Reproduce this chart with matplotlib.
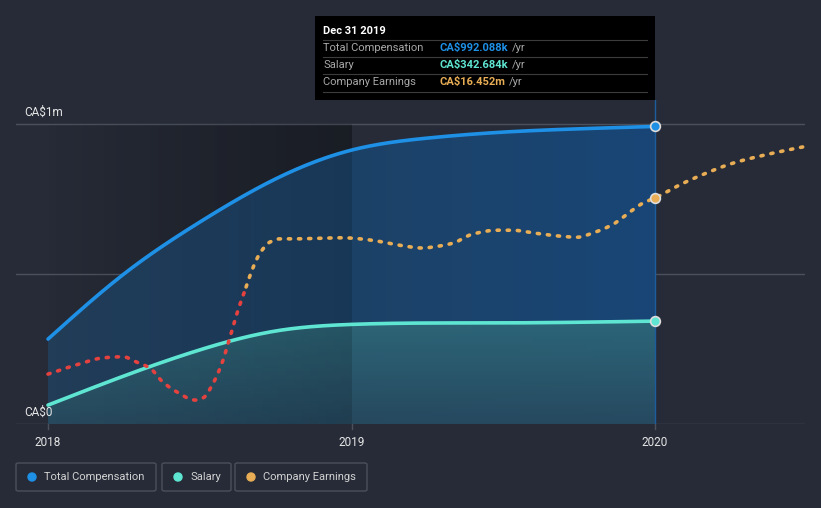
import numpy as np
import matplotlib
matplotlib.use('Agg')
import matplotlib.pyplot as plt
from matplotlib.patches import FancyBboxPatch, Rectangle, Ellipse
from matplotlib.colors import LinearSegmentedColormap

# values (years as decimals, CA$m)
comp_x = [2018.0, 2018.25, 2018.5, 2018.75, 2019.0, 2019.25, 2019.5, 2019.75, 2020.0]
comp_y = [0.283, 0.50, 0.673, 0.817, 0.913, 0.953, 0.973, 0.984, 0.992]

sal_x = [2018.0, 2018.25, 2018.5, 2018.75, 2019.0, 2019.5, 2020.0]
sal_y = [0.063, 0.16, 0.247, 0.31, 0.332, 0.337, 0.343]

earn_x = [2018.0, 2018.105, 2018.181, 2018.247, 2018.293, 2018.336, 2018.379, 2018.425,
          2018.484, 2018.511, 2018.544, 2018.573, 2018.6, 2018.626, 2018.649, 2018.672,
          2018.699, 2018.731, 2018.764, 2018.807, 2018.972, 2019.028, 2019.084, 2019.15,
          2019.236, 2019.269, 2019.334, 2019.4, 2019.479, 2019.532, 2019.598, 2019.687,
          2019.743, 2019.796, 2019.862, 2019.918, 2019.96, 2020.0, 2020.082, 2020.171,
          2020.257, 2020.346, 2020.435, 2020.488]
earn_y = [-16.1, -14.2, -13.1, -12.9, -13.9, -15.0, -17.6, -19.4,
          -20.9, -20.5, -17.8, -14.1, -9.2, -4.3, -0.6, 3.1,
          6.3, 8.3, 8.9, 8.9, 9.1, 8.9, 8.5, 7.8,
          7.2, 7.4, 8.1, 9.8, 10.5, 10.5, 10.0, 9.4,
          9.2, 10.0, 11.6, 13.9, 15.5, 16.452, 18.9, 21.1,
          22.9, 24.2, 25.3, 25.9]

year_ticks = [2018, 2019, 2020]
tip_rows = [('Total Compensation', 'CA$992.088k'), ('Salary', 'CA$342.684k'),
            ('Company Earnings', 'CA$16.452m')]

BG = '#262b37'
BLUE = '#1e90e6'
TEAL = '#5fe6d2'
ORANGE = '#e8ad55'
RED = '#e5423f'
GRID = '#4a505c'
FONT = 'Roboto'


def hermite(x, y, m, n):
    xs, ys = [], []
    h = np.diff(x)
    for k in range(len(h)):
        t = np.linspace(0, 1, n, endpoint=False)
        h00 = 2 * t**3 - 3 * t**2 + 1
        h10 = t**3 - 2 * t**2 + t
        h01 = -2 * t**3 + 3 * t**2
        h11 = t**3 - t**2
        xs.append(x[k] + t * h[k])
        ys.append(h00 * y[k] + h10 * h[k] * m[k] + h01 * y[k + 1] + h11 * h[k] * m[k + 1])
    xs.append([x[-1]])
    ys.append([y[-1]])
    return np.concatenate(xs), np.concatenate(ys)


def monotone(x, y, n=8):
    # Fritsch-Carlson slopes, only for drawing
    x = np.asarray(x, float)
    y = np.asarray(y, float)
    h = np.diff(x)
    d = np.diff(y) / h
    m = np.zeros_like(y)
    m[0], m[-1] = d[0], d[-1]
    for k in range(1, len(y) - 1):
        if d[k - 1] * d[k] > 0:
            w1 = 2 * h[k] + h[k - 1]
            w2 = h[k] + 2 * h[k - 1]
            m[k] = (w1 + w2) / (w1 / d[k - 1] + w2 / d[k])
    return hermite(x, y, m, n)


def natural(x, y, n=30):
    # natural cubic spline slopes, only for drawing
    x = np.asarray(x, float)
    y = np.asarray(y, float)
    N = len(x)
    h = np.diff(x)
    A = np.zeros((N, N))
    b = np.zeros(N)
    A[0, 0], A[0, 1] = 2 / h[0], 1 / h[0]
    b[0] = 3 * (y[1] - y[0]) / h[0]**2
    A[-1, -2], A[-1, -1] = 1 / h[-1], 2 / h[-1]
    b[-1] = 3 * (y[-1] - y[-2]) / h[-1]**2
    for k in range(1, N - 1):
        A[k, k - 1] = 1 / h[k - 1]
        A[k, k] = 2 / h[k - 1] + 2 / h[k]
        A[k, k + 1] = 1 / h[k]
        b[k] = 3 * ((y[k] - y[k - 1]) / h[k - 1]**2 + (y[k + 1] - y[k]) / h[k]**2)
    m = np.linalg.solve(A, b)
    return hermite(x, y, m, n)


W, H = 821, 508
fig = plt.figure(figsize=(W / 100, H / 100), dpi=100)
fig.patch.set_facecolor(BG)


def px(x0, y0, x1, y1):
    return [x0 / W, 1 - y1 / H, (x1 - x0) / W, (y1 - y0) / H]


ax = fig.add_axes(px(16, 100, 805, 424))
ax.set_facecolor(BG)
x0 = 2018 - 32 / 303.5
x1 = 2018 + 757 / 303.5
ax.set_xlim(x0, x1)
ax.set_ylim(0, 1.08)
for s in ax.spines.values():
    s.set_visible(False)
ax.set_xticks([])
ax.set_yticks([])

cx, cy = natural(comp_x, comp_y)
sx, sy = natural(sal_x, sal_y)
ex, ey = monotone(earn_x, earn_y)

# darker band over the 2018-2019 part
ax.imshow(np.linspace(0, 1, 256).reshape(1, -1), extent=[2018, 2019, 0, 1.0], aspect='auto',
          cmap=LinearSegmentedColormap.from_list('b', [BG, '#1e222b']), zorder=0.5)

for v in [0, 0.5, 1.0]:
    ax.axhline(v, color=GRID, lw=1, zorder=1)

# gradient fills
fc = ax.fill_between(cx, 0, cy, color='none', zorder=2)
img = ax.imshow(np.linspace(0, 1, 256).reshape(1, -1), extent=[2018, 2020, 0, 1.08], aspect='auto',
                cmap=LinearSegmentedColormap.from_list('c', ['#223d58', '#184676']), zorder=2)
img.set_clip_path(fc.get_paths()[0], transform=ax.transData)

fs = ax.fill_between(sx, 0, sy, color='none', zorder=3)
img2 = ax.imshow(np.linspace(0, 1, 256).reshape(-1, 1), extent=[2018, 2020, 0, 0.35], aspect='auto',
                 cmap=LinearSegmentedColormap.from_list('s', ['#2f6a7a', '#284a5e']), zorder=3, alpha=0.9)
img2.set_clip_path(fs.get_paths()[0], transform=ax.transData)

ax.imshow(np.linspace(0, 1, 256).reshape(1, -1), extent=[2018, 2019, 0, 1.0], aspect='auto',
          cmap=LinearSegmentedColormap.from_list('o', [(0, 0, 0, 0), (0, 0, 0, 0.15)]), zorder=3.5)

ax.plot([2020, 2020], [0, 1.08], color='#1d5d9e', lw=1, zorder=3.6)

ax.plot(cx, cy, color=BLUE, lw=2.6, zorder=5, solid_capstyle='round')
ax.plot(sx, sy, color=TEAL, lw=2.6, zorder=5, solid_capstyle='round')

# earnings on its own hidden scale, red while negative
ax2 = ax.twinx()
ax2.set_ylim((287 - 424) / 5.41, (287 - 100) / 5.41)
ax2.axis('off')
i = np.where((ey[:-1] < 0) & (ey[1:] >= 0))[0][0]
xc = ex[i] + (0 - ey[i]) * (ex[i + 1] - ex[i]) / (ey[i + 1] - ey[i])
ls = (0, (0.6, 2.2))
ax2.plot(list(ex[:i + 1]) + [xc], list(ey[:i + 1]) + [0], color=RED, lw=2.6, ls=ls,
         dash_capstyle='round', zorder=6)
ax2.plot([xc] + list(ex[i + 1:]), [0] + list(ey[i + 1:]), color=ORANGE, lw=2.6, ls=ls,
         dash_capstyle='round', zorder=6)
ax2.plot([2020], [16.452], 'o', ms=7, mfc=ORANGE, mec='#dddddd', mew=1.2, zorder=7)

ax.plot([2020], [comp_y[-1]], 'o', ms=7, mfc=BLUE, mec='#dddddd', mew=1.2, zorder=7)
ax.plot([2020], [sal_y[-1]], 'o', ms=7, mfc=TEAL, mec='#dddddd', mew=1.2, zorder=7)

# year ticks and labels
for yr in year_ticks:
    ax.plot([yr, yr], [0, -0.015], color=GRID, lw=1, clip_on=False)
    ax.text(yr, -0.04, str(yr), color='#e6e6e6', fontsize=8.5, ha='center', va='top', family=FONT)
ax.text(x0 + 8 / 303.5, 1.04, 'CA$1m', color='#e6e6e6', fontsize=8.5, va='center', family=FONT)
ax.text(x0 + 8 / 303.5, 0.04, 'CA$0', color='#e6e6e6', fontsize=8.5, va='center', family=FONT)

# tooltip
fig.patches.append(Rectangle((315 / W, 1 - 100 / H), 340 / W, 84 / H, transform=fig.transFigure,
                             facecolor='black', edgecolor='none', zorder=10))
fig.text(323 / W, 1 - 31 / H, 'Dec 31 2019', color='white', fontsize=8, weight='bold',
         va='center', family=FONT, zorder=11)
renderer = fig.canvas.get_renderer()
for k, (lab, val) in enumerate(tip_rows):
    yy = 48 + k * 17
    fig.lines.append(plt.Line2D([323 / W, 647 / W], [1 - (yy - 8.5) / H] * 2, color='#3c3c3c', lw=0.8,
                                transform=fig.transFigure, zorder=11))
    fig.text(323 / W, 1 - yy / H, lab, color='#a8a8a8', fontsize=8, va='center', family=FONT, zorder=11)
    t = fig.text(439 / W, 1 - yy / H, val, color=[BLUE, TEAL, ORANGE][k], fontsize=8, weight='bold',
                 va='center', family=FONT, zorder=11)
    bb = t.get_window_extent(renderer)
    fig.text((bb.x1 + 4) / W, 1 - yy / H, '/yr', color='#a8a8a8', fontsize=8, va='center',
             family=FONT, zorder=11)
fig.lines.append(plt.Line2D([323 / W, 647 / W], [1 - 91.5 / H] * 2, color='#3c3c3c', lw=0.8,
                            transform=fig.transFigure, zorder=11))

# legend
for (bx0, bx1, lab, col) in [(16, 156, 'Total Compensation', BLUE), (162, 231, 'Salary', TEAL),
                             (235, 367, 'Company Earnings', ORANGE)]:
    fig.patches.append(FancyBboxPatch((bx0 / W, 1 - 491 / H), (bx1 - bx0) / W, 28 / H,
                                      boxstyle='round,pad=0,rounding_size=0.003', transform=fig.transFigure,
                                      facecolor='none', edgecolor=GRID, lw=1))
    fig.patches.append(Ellipse(((bx0 + 16) / W, 1 - 477 / H), 8 / W, 8 / H,
                               transform=fig.transFigure, color=col))
    fig.text((bx0 + 28) / W, 1 - 477 / H, lab, color='#d2d2d2', fontsize=8, va='center', family=FONT)

fig.savefig('out.png', dpi=100, facecolor=BG)
